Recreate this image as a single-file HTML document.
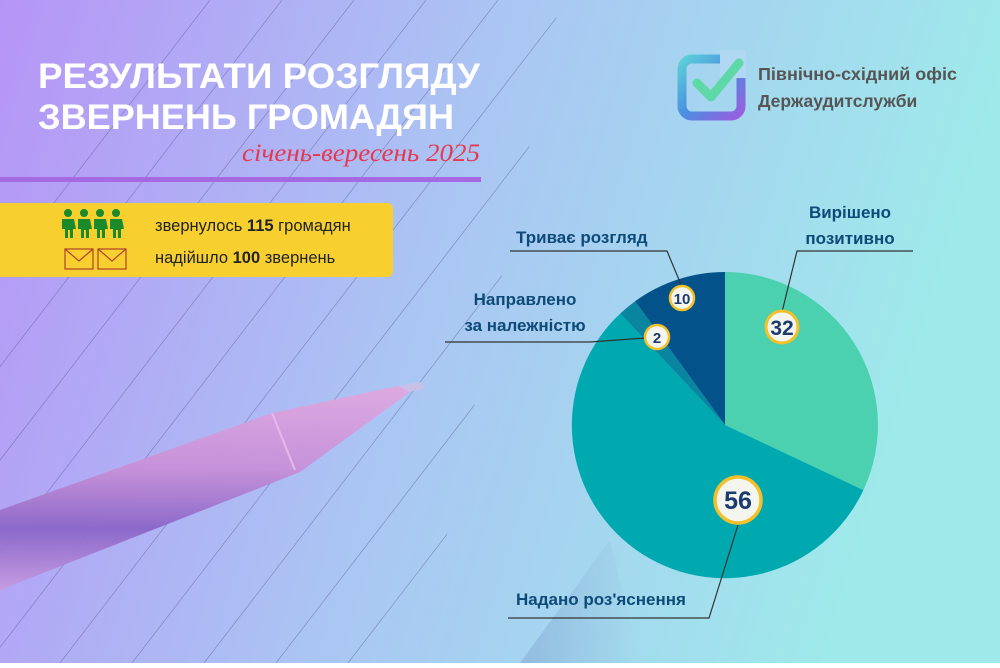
<!DOCTYPE html>
<html><head><meta charset="utf-8"><style>
body{margin:0;width:1000px;height:663px;overflow:hidden;font-family:"Liberation Sans","DejaVu Sans",sans-serif}
</style></head><body>
<svg width="1000" height="663" viewBox="0 0 1000 663" xmlns="http://www.w3.org/2000/svg">
<defs>
<linearGradient id="bg" x1="0" y1="0" x2="1" y2="0.2">
<stop offset="0" stop-color="#b695f6"/><stop offset="0.5" stop-color="#aac6f3"/><stop offset="1" stop-color="#9eeaea"/></linearGradient>
<linearGradient id="pen" x1="0" y1="0" x2="0" y2="1">
<stop offset="0" stop-color="#e0a8e0"/><stop offset="0.4" stop-color="#c890d8"/><stop offset="0.7" stop-color="#8a66c8"/><stop offset="1" stop-color="#c69ae0"/></linearGradient>
<linearGradient id="logo" x1="0" y1="0" x2="1" y2="1">
<stop offset="0" stop-color="#5ccfd8"/><stop offset="0.5" stop-color="#4a8ee0"/><stop offset="1" stop-color="#9a5de0"/></linearGradient>
<clipPath id="pc"><polygon points="0,0 560,0 420,663 0,663"/></clipPath>
<linearGradient id="sh" x1="0" y1="0" x2="1" y2="0">
<stop offset="0" stop-color="#5060a0" stop-opacity="0.35"/><stop offset="1" stop-color="#5060a0" stop-opacity="0"/></linearGradient>
</defs>
<rect width="1000" height="663" fill="url(#bg)"/>
<polygon points="520,663 610,540 640,663" fill="url(#sh)" opacity="0.6"/>
<g stroke="#4a4a80" stroke-width="0.8" opacity="0.4" clip-path="url(#pc)">
<line x1="-300" y1="663" x2="210" y2="0"/>
<line x1="-228" y1="663" x2="282" y2="0"/>
<line x1="-156" y1="663" x2="354" y2="0"/>
<line x1="-84" y1="663" x2="426" y2="0"/>
<line x1="-12" y1="663" x2="498" y2="0"/>
<line x1="60" y1="663" x2="570" y2="0"/>
<line x1="132" y1="663" x2="642" y2="0"/>
<line x1="204" y1="663" x2="714" y2="0"/>
<line x1="276" y1="663" x2="786" y2="0"/>
<line x1="348" y1="663" x2="858" y2="0"/>
</g>
<!-- pen -->
<polygon points="0,510 272,413 398,386 410,392 300,472 0,590" fill="url(#pen)" opacity="0.95"/>
<polygon points="398,386 420,382 426,388 410,392" fill="#c9c0e8"/>
<line x1="272" y1="413" x2="295" y2="470" stroke="#e8b8ec" stroke-width="2"/>
<!-- title -->
<text x="38" y="88" fill="#fff" font-size="35.5" font-weight="bold" textLength="442" lengthAdjust="spacingAndGlyphs">РЕЗУЛЬТАТИ РОЗГЛЯДУ</text>
<text x="38" y="129" fill="#fff" font-size="35.5" font-weight="bold" textLength="416" lengthAdjust="spacingAndGlyphs">ЗВЕРНЕНЬ ГРОМАДЯН</text>
<text x="242" y="161" fill="#e8384f" font-size="25" font-style="italic" font-family="Liberation Serif,serif" textLength="238" lengthAdjust="spacingAndGlyphs">січень-вересень 2025</text>
<rect x="0" y="177" width="481" height="5" fill="#a56ae2"/>
<!-- yellow box -->
<rect x="-8" y="203" width="401" height="74" rx="6" fill="#f7d030"/>
<g fill="#1a8a2a">
<g id="p"><circle cx="68" cy="213" r="4"/><path d="M62,219h12l2,10h-3v9h-3v-8h-2v8h-3v-9h-3z"/></g>
<use href="#p" x="16"/><use href="#p" x="32"/><use href="#p" x="48"/>
</g>
<g fill="none" stroke="#b0402a" stroke-width="1.2">
<rect x="65" y="249" width="28" height="20"/><path d="M65,249l14,12l14,-12"/>
<rect x="98" y="249" width="28" height="20"/><path d="M98,249l14,12l14,-12"/>
</g>
<text x="155" y="231" font-size="16.5" fill="#222">звернулось <tspan font-weight="bold">115</tspan> громадян</text>
<text x="155" y="263" font-size="16.5" fill="#222">надійшло <tspan font-weight="bold">100</tspan> звернень</text>
<!-- logo -->
<rect x="682" y="59" width="59" height="57" rx="10" fill="none" stroke="url(#logo)" stroke-width="9"/>
<rect x="720" y="50" width="26" height="28" fill="#b0d8f2"/>
<path d="M697,83l14,14l28,-34" fill="none" stroke="#5fd8a8" stroke-width="9" stroke-linecap="round" stroke-linejoin="round"/>
<text x="758" y="80" font-size="17.5" font-weight="bold" fill="#555" textLength="199" lengthAdjust="spacingAndGlyphs">Північно-східний офіс</text>
<text x="758" y="107" font-size="17.5" font-weight="bold" fill="#555">Держаудитслужби</text>
<!-- pie -->
<path d="M725,425 L725,272 A153,153 0 0 1 863.4,490.1 Z" fill="#4bd0b0"/>
<path d="M725,425 L863.4,490.1 A153,153 0 1 1 620.3,313.5 Z" fill="#00a8b0"/>
<path d="M725,425 L620.3,313.5 A153,153 0 0 1 635.1,301.2 Z" fill="#0a85a0"/>
<path d="M725,425 L635.1,301.2 A153,153 0 0 1 725,272 Z" fill="#03538a"/>
<!-- leaders -->
<g fill="none" stroke="#333" stroke-width="1.2">
<polyline points="682,287 667,251 510,251"/>
<polyline points="782,312 797,251 913,251"/>
<polyline points="645,338 590,342 445,342"/>
<polyline points="738,525 709,618 508,618"/>
</g>
<g font-weight="bold" fill="#0e4a78" font-size="17">
<text x="516" y="243">Триває розгляд</text>
<text x="850" y="218" text-anchor="middle">Вирішено</text>
<text x="850" y="244" text-anchor="middle">позитивно</text>
<text x="525" y="305" text-anchor="middle">Направлено</text>
<text x="525" y="331" text-anchor="middle">за належністю</text>
<text x="516" y="605">Надано роз'яснення</text>
</g>
<g stroke="#f3c02a" fill="#f5f5ef">
<circle cx="782" cy="327" r="16" stroke-width="3"/>
<circle cx="682" cy="298" r="12" stroke-width="2.5"/>
<circle cx="657" cy="337" r="12" stroke-width="2.5"/>
<circle cx="738" cy="500" r="23" stroke-width="3.5"/>
</g>
<g font-weight="bold" fill="#1a3a70" text-anchor="middle">
<text x="782" y="335" font-size="21">32</text>
<text x="682" y="304" font-size="15">10</text>
<text x="657" y="343" font-size="15">2</text>
<text x="738" y="509" font-size="25">56</text>
</g>
</svg>
</body></html>
